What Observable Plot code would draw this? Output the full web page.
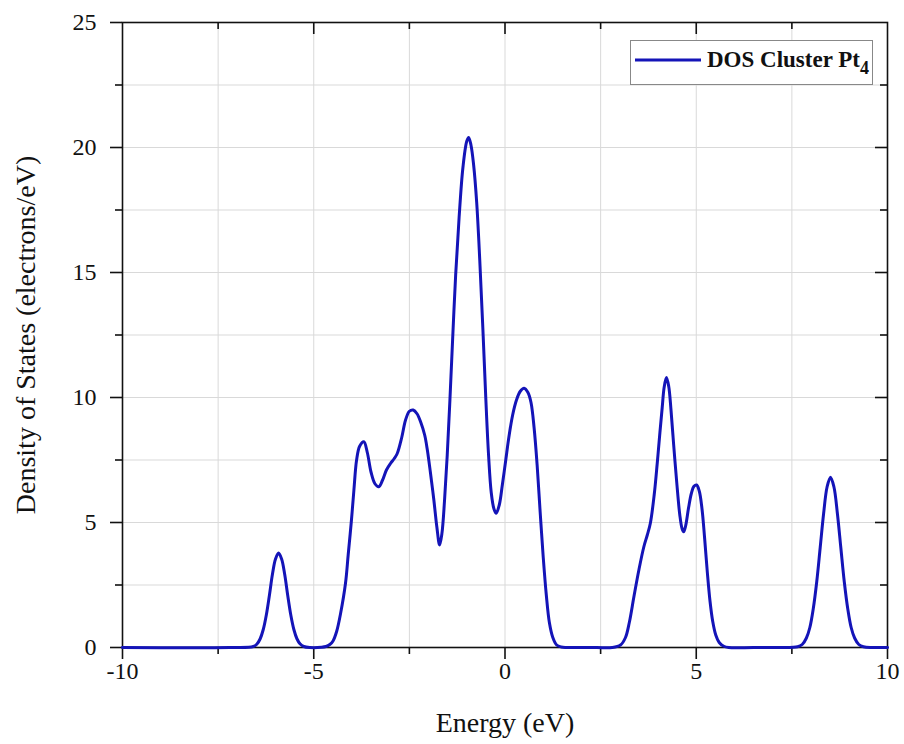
<!DOCTYPE html>
<html>
<head>
<meta charset="utf-8">
<script src="https://cdn.jsdelivr.net/npm/d3@7"></script>
<script src="https://cdn.jsdelivr.net/npm/@observablehq/plot@0.6"></script>
<style>
  html, body { margin: 0; padding: 0; background: white; }
  #wrap { position: relative; width: 904px; height: 744px; }
  #legend { position: absolute; left: 630px; top: 40px; width: 243px; height: 45px;
    border: 1px solid #888; background: white; box-sizing: border-box;
    font-family: "Liberation Serif", serif; font-weight: bold; font-size: 23px; color: #111; }
  #legend svg { position: absolute; left: 2px; top: 15px; }
  #legend .lab { position: absolute; left: 76px; top: 6px; white-space: nowrap; }
  #legend sub { font-size: 18px; vertical-align: -7px; line-height: 0; }
</style>
</head>
<body>
<div id="wrap"></div>
<script>
const energy = [-10, -7.2, -6.58, -6.48, -6.4, -6.32, -6.24, -6.16, -6.08, -6.0, -5.92, -5.84, -5.76, -5.68, -5.6, -5.52, -5.44, -5.36, -5.26, -5.1,
  -4.8, -4.68, -4.58, -4.5, -4.4, -4.3, -4.17, -4.1, -4.02, -3.95, -3.88, -3.8, -3.69, -3.6, -3.5, -3.4, -3.3, -3.2, -3.1, -2.99,
  -2.9, -2.82, -2.7, -2.6, -2.5, -2.4, -2.3, -2.2, -2.1, -2.03, -1.95, -1.86, -1.78, -1.71, -1.65, -1.58, -1.51, -1.44, -1.37, -1.29,
  -1.2, -1.1, -1.0, -0.95, -0.89, -0.82, -0.74, -0.66, -0.58, -0.5, -0.43, -0.36, -0.29, -0.23, -0.15, -0.07, 0.02, 0.1, 0.2, 0.3,
  0.4, 0.5, 0.6, 0.68, 0.76, 0.84, 0.92, 1.0, 1.08, 1.16, 1.25, 1.35, 1.47, 1.6, 2.0, 2.4, 2.8, 3.02, 3.15, 3.25,
  3.37, 3.5, 3.63, 3.72, 3.8, 3.9, 3.98, 4.05, 4.11, 4.16, 4.22, 4.28, 4.34, 4.41, 4.49, 4.57, 4.63, 4.67, 4.72, 4.8,
  4.87, 4.94, 5.01, 5.08, 5.15, 5.22, 5.29, 5.36, 5.43, 5.51, 5.6, 5.72, 5.85, 6.5, 7.2, 7.65, 7.77, 7.88, 7.97, 8.06,
  8.15, 8.24, 8.33, 8.42, 8.51, 8.6, 8.69, 8.78, 8.87, 8.96, 9.05, 9.14, 9.25, 9.37, 9.6, 10];
const dos = [0, 0, 0.04, 0.15, 0.35, 0.72, 1.3, 2.08, 2.93, 3.54, 3.78, 3.54, 2.93, 2.08, 1.3, 0.72, 0.35, 0.15, 0.04, 0,
  0.01, 0.04, 0.12, 0.25, 0.65, 1.35, 2.57, 3.7, 5.0, 6.3, 7.5, 8.05, 8.23, 7.8, 7.0, 6.55, 6.43, 6.7, 7.1, 7.37,
  7.55, 7.75, 8.4, 9.1, 9.45, 9.5, 9.35, 9.0, 8.5, 7.9, 7.0, 5.9, 4.8, 4.1, 4.55, 5.9, 7.7, 9.9, 12.3, 14.9,
  17.2, 19.2, 20.25, 20.4, 20.1, 19.3, 17.8, 15.5, 12.8, 9.9, 7.7, 6.2, 5.55, 5.37, 5.7, 6.5, 7.5, 8.4, 9.3, 9.9,
  10.25, 10.37, 10.2, 9.8, 8.8, 7.3, 5.4, 3.6, 2.1, 1.0, 0.4, 0.1, 0.02, 0, 0, 0, 0, 0.1, 0.4, 1.0,
  2.03, 3.1, 4.03, 4.5, 4.97, 6.1, 7.37, 8.6, 9.6, 10.4, 10.8, 10.45, 9.5, 8.1, 6.6, 5.3, 4.75, 4.63, 4.85, 5.6,
  6.15, 6.45, 6.5, 6.25, 5.55, 4.35, 3.0, 1.85, 1.05, 0.5, 0.2, 0.05, 0, 0, 0, 0.03, 0.12, 0.38, 0.8, 1.56,
  2.63, 3.99, 5.36, 6.42, 6.81, 6.42, 5.36, 3.99, 2.63, 1.56, 0.8, 0.38, 0.12, 0.03, 0, 0];
const xMajor = [-10, -5, 0, 5, 10];
const xMinor = [-7.5, -2.5, 2.5, 7.5];
const yMajor = [0, 5, 10, 15, 20, 25];
const yMinor = [2.5, 7.5, 12.5, 17.5, 22.5];
const xTitle = "Energy (eV)";
const yTitle = "Density of States (electrons/eV)";
const seriesName = "DOS Cluster Pt";
const seriesSub = "4";

const data = energy.map((e, i) => ({e, d: dos[i]}));
const lineColor = "#1414b8";
const frameW = 904 - 122 - 17, frameH = 744 - 22 - 97;
const gridStyle = {stroke: "#d9d9d9", strokeOpacity: 1, strokeWidth: 1};
const tickStyle = {stroke: "#111", strokeWidth: 1.6};

const chart = Plot.plot({
  width: 904, height: 744,
  marginLeft: 122, marginRight: 17, marginTop: 22, marginBottom: 97,
  style: {fontFamily: "Liberation Serif, 'Times New Roman', serif", fontSize: "24px", background: "white", color: "#111", overflow: "visible"},
  x: {domain: [-10, 10]},
  y: {domain: [0, 25]},
  marks: [
    Plot.gridX([...xMinor, -5, 0, 5], gridStyle),
    Plot.gridY([...yMinor, 5, 10, 15, 20], gridStyle),
    Plot.frame({stroke: "#111", strokeWidth: 1.6}),
    Plot.axisX({ticks: xMajor, tickSize: 12, tickPadding: 2, tickFormat: d => String(d), label: null, strokeWidth: 1.6}),
    Plot.axisX({ticks: xMinor, tickSize: 7, text: null, label: null, strokeWidth: 1.6}),
    Plot.ruleX(xMajor.slice(1, -1), {...tickStyle, insetBottom: frameH - 12}),
    Plot.ruleX(xMinor, {...tickStyle, insetBottom: frameH - 7}),
    Plot.axisY({ticks: yMajor, tickSize: 12, tickPadding: 14, label: null, strokeWidth: 1.6}),
    Plot.axisY({ticks: yMinor, tickSize: 7, text: null, label: null, strokeWidth: 1.6}),
    Plot.ruleY(yMajor.slice(1, -1), {...tickStyle, insetLeft: frameW - 12}),
    Plot.ruleY(yMinor, {...tickStyle, insetLeft: frameW - 7}),
    Plot.text([xTitle], {frameAnchor: "bottom", dy: 76, lineAnchor: "middle", textAnchor: "middle", fontSize: 28, text: d => d}),
    Plot.text([yTitle], {frameAnchor: "left", dx: -96, rotate: -90, textAnchor: "middle", lineAnchor: "middle", fontSize: 28, text: d => d}),
    Plot.line(data, {x: "e", y: "d", stroke: lineColor, strokeWidth: 3, curve: "catmull-rom"})
  ]
});

const wrap = document.getElementById("wrap");
wrap.appendChild(chart);
const legend = document.createElement("div");
legend.id = "legend";
legend.innerHTML = `<svg width="70" height="8"><line x1="2" y1="4" x2="68" y2="4" stroke="${lineColor}" stroke-width="3"/></svg><span class="lab">${seriesName}<sub>${seriesSub}</sub></span>`;
wrap.appendChild(legend);
</script>
</body>
</html>
